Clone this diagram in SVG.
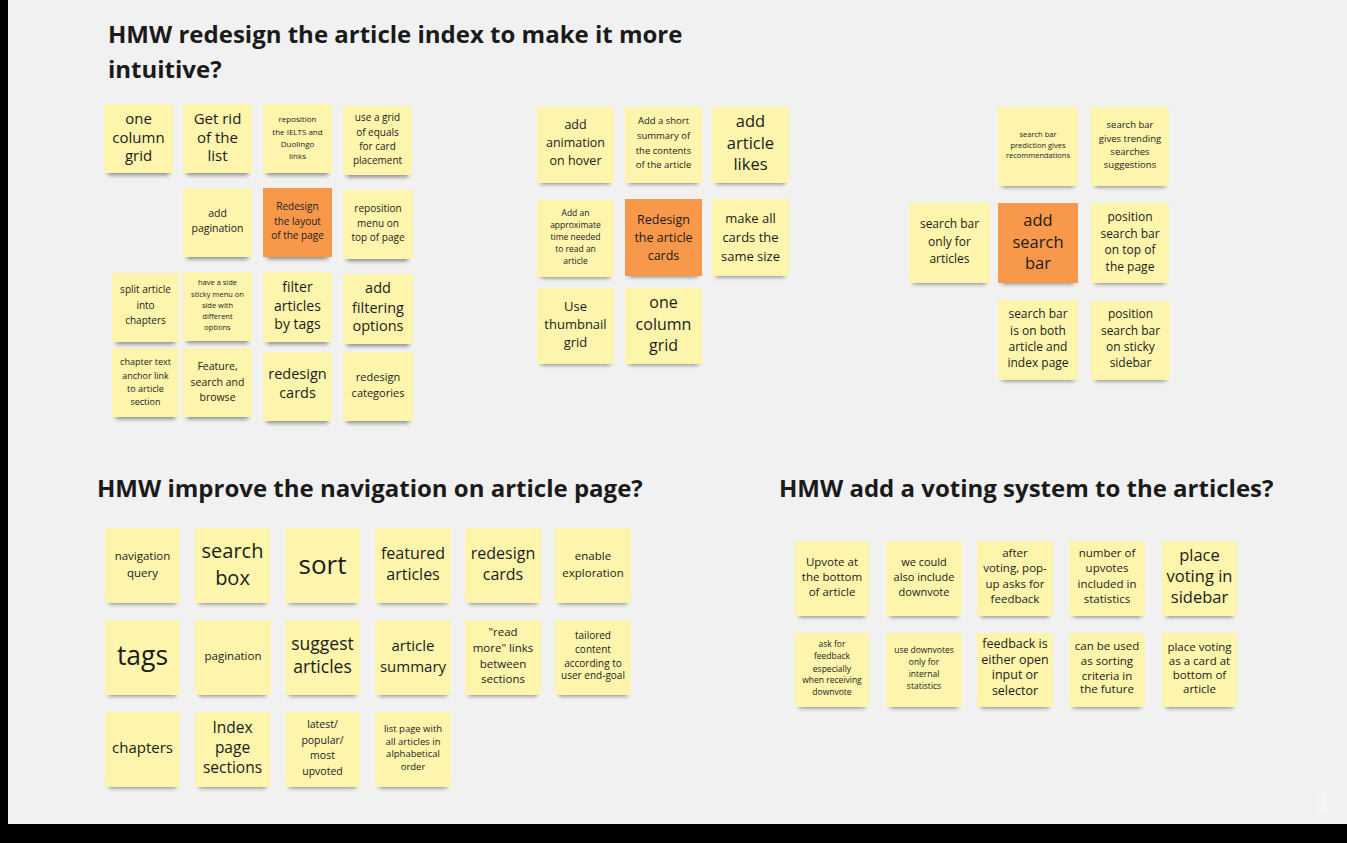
<svg xmlns="http://www.w3.org/2000/svg" width="1347" height="843" viewBox="0 0 1347 843">
  <style>
    .bg { fill: #f1f1f1; }
    .edge { fill: #000000; }
    .note { fill: #fdf5ab; }
    .hot { fill: #f8984b; }
    .sh { fill: #000000; opacity: 0.45; filter: url(#soft); }
    .t { font-family: "Open Sans", "Noto Sans", "Liberation Sans", sans-serif; fill: #1c1c1c; text-anchor: middle; }
    .h { font-family: "Open Sans", "Noto Sans", "Liberation Sans", sans-serif; font-weight: 700; font-size: 24px; fill: #1a1a1a; }
  </style>
  <defs>
    <filter id="soft" x="-20%" y="-200%" width="140%" height="500%">
      <feGaussianBlur stdDeviation="2.2"/>
    </filter>
  </defs>

  <rect class="bg" x="0" y="0" width="1347" height="843"/>
  <rect class="edge" x="0" y="0" width="8" height="843"/>
  <rect class="edge" x="0" y="824" width="1347" height="19"/>
  <rect x="1316" y="792" width="11" height="23" rx="4" fill="#f5f5f5"/>

  <!-- headings -->
  <text class="h" x="108" y="43">HMW redesign the article index to make it more</text>
  <text class="h" x="108" y="78">intuitive?</text>
  <text class="h" x="97" y="497">HMW improve the navigation on article page?</text>
  <text class="h" x="779" y="497">HMW add a voting system to the articles?</text>

  <!-- cluster: article index -->
  <g id="n-one-column-grid"><rect class="sh" x="108" y="168" width="61" height="7"/><rect class="note" x="104" y="104" width="69" height="69"/>
    <text class="t" font-size="15"><tspan x="138.5" y="124">one</tspan><tspan x="138.5" y="143">column</tspan><tspan x="138.5" y="161">grid</tspan></text></g>
  <g id="n-get-rid"><rect class="sh" x="187" y="168" width="61" height="7"/><rect class="note" x="183" y="104" width="69" height="69"/>
    <text class="t" font-size="15"><tspan x="217.5" y="124">Get rid</tspan><tspan x="217.5" y="143">of the</tspan><tspan x="217.5" y="161">list</tspan></text></g>
  <g id="n-ielts"><rect class="sh" x="267" y="168" width="61" height="7"/><rect class="note" x="263" y="104" width="69" height="69"/>
    <text class="t" font-size="8"><tspan x="297.5" y="122">reposition</tspan><tspan x="297.5" y="134.5">the IELTS and</tspan><tspan x="297.5" y="147">Duolingo</tspan><tspan x="297.5" y="158.5">links</tspan></text></g>
  <g id="n-grid-equals"><rect class="sh" x="347" y="170" width="61" height="7"/><rect class="note" x="343" y="106" width="69" height="69"/>
    <text class="t" font-size="10"><tspan x="377.5" y="121">use a grid</tspan><tspan x="377.5" y="135.5">of equals</tspan><tspan x="377.5" y="150">for card</tspan><tspan x="377.5" y="164">placement</tspan></text></g>

  <g id="n-add-pagination"><rect class="sh" x="187" y="252" width="61" height="7"/><rect class="note" x="183" y="188" width="69" height="69"/>
    <text class="t" font-size="10.5"><tspan x="217.5" y="217">add</tspan><tspan x="217.5" y="232">pagination</tspan></text></g>
  <g id="n-redesign-layout"><rect class="sh" x="267" y="252" width="61" height="7"/><rect class="hot" x="263" y="188" width="69" height="69"/>
    <text class="t" font-size="10"><tspan x="297.5" y="210">Redesign</tspan><tspan x="297.5" y="224.5">the layout</tspan><tspan x="297.5" y="239">of the page</tspan></text></g>
  <g id="n-reposition-menu"><rect class="sh" x="347" y="254" width="61" height="7"/><rect class="note" x="343" y="190" width="70" height="69"/>
    <text class="t" font-size="10"><tspan x="378" y="212">reposition</tspan><tspan x="378" y="226.5">menu on</tspan><tspan x="378" y="241">top of page</tspan></text></g>

  <g id="n-split-article"><rect class="sh" x="116" y="337" width="59" height="7"/><rect class="note" x="112" y="273" width="67" height="69"/>
    <text class="t" font-size="10"><tspan x="145.5" y="293">split article</tspan><tspan x="145.5" y="309">into</tspan><tspan x="145.5" y="324">chapters</tspan></text></g>
  <g id="n-side-sticky-menu"><rect class="sh" x="187" y="336" width="61" height="7"/><rect class="note" x="183" y="272" width="69" height="69"/>
    <text class="t" font-size="7.5"><tspan x="217.5" y="285">have a side</tspan><tspan x="217.5" y="296.5">sticky menu on</tspan><tspan x="217.5" y="308">side with</tspan><tspan x="217.5" y="319">different</tspan><tspan x="217.5" y="330">options</tspan></text></g>
  <g id="n-filter-tags"><rect class="sh" x="267" y="337" width="61" height="7"/><rect class="note" x="263" y="272" width="69" height="70"/>
    <text class="t" font-size="14"><tspan x="297.5" y="292">filter</tspan><tspan x="297.5" y="311">articles</tspan><tspan x="297.5" y="329">by tags</tspan></text></g>
  <g id="n-filtering-options"><rect class="sh" x="347" y="339" width="62" height="7"/><rect class="note" x="343" y="274" width="70" height="70"/>
    <text class="t" font-size="14.5"><tspan x="378" y="293">add</tspan><tspan x="378" y="313">filtering</tspan><tspan x="378" y="331">options</tspan></text></g>

  <g id="n-anchor-link"><rect class="sh" x="116" y="412" width="59" height="7"/><rect class="note" x="112" y="348" width="67" height="69"/>
    <text class="t" font-size="9"><tspan x="145.5" y="365">chapter text</tspan><tspan x="145.5" y="378.5">anchor link</tspan><tspan x="145.5" y="392">to article</tspan><tspan x="145.5" y="405">section</tspan></text></g>
  <g id="n-feature-search"><rect class="sh" x="187" y="412" width="61" height="7"/><rect class="note" x="183" y="348" width="69" height="69"/>
    <text class="t" font-size="10.5"><tspan x="217.5" y="370">Feature,</tspan><tspan x="217.5" y="385.5">search and</tspan><tspan x="217.5" y="401">browse</tspan></text></g>
  <g id="n-redesign-cards-1"><rect class="sh" x="267" y="416" width="61" height="7"/><rect class="note" x="263" y="352" width="69" height="69"/>
    <text class="t" font-size="14.5"><tspan x="297.5" y="379">redesign</tspan><tspan x="297.5" y="398">cards</tspan></text></g>
  <g id="n-redesign-categories"><rect class="sh" x="347" y="416" width="62" height="7"/><rect class="note" x="343" y="352" width="70" height="69"/>
    <text class="t" font-size="11"><tspan x="378" y="381">redesign</tspan><tspan x="378" y="397">categories</tspan></text></g>

  <!-- cluster: article cards -->
  <g id="n-animation-hover"><rect class="sh" x="541" y="177" width="69" height="7"/><rect class="note" x="537" y="107" width="77" height="76"/>
    <text class="t" font-size="12.5"><tspan x="575.5" y="129">add</tspan><tspan x="575.5" y="147">animation</tspan><tspan x="575.5" y="165">on hover</tspan></text></g>
  <g id="n-short-summary"><rect class="sh" x="629" y="177" width="69" height="7"/><rect class="note" x="625" y="107" width="77" height="76"/>
    <text class="t" font-size="9.5"><tspan x="663.5" y="124">Add a short</tspan><tspan x="663.5" y="139">summary of</tspan><tspan x="663.5" y="154">the contents</tspan><tspan x="663.5" y="168">of the article</tspan></text></g>
  <g id="n-article-likes"><rect class="sh" x="716" y="177" width="69" height="7"/><rect class="note" x="712" y="107" width="77" height="76"/>
    <text class="t" font-size="16.5"><tspan x="750.5" y="127">add</tspan><tspan x="750.5" y="149">article</tspan><tspan x="750.5" y="170">likes</tspan></text></g>

  <g id="n-reading-time"><rect class="sh" x="541" y="271" width="69" height="7"/><rect class="note" x="537" y="200" width="77" height="77"/>
    <text class="t" font-size="8.5"><tspan x="575.5" y="216">Add an</tspan><tspan x="575.5" y="228">approximate</tspan><tspan x="575.5" y="240">time needed</tspan><tspan x="575.5" y="252">to read an</tspan><tspan x="575.5" y="264">article</tspan></text></g>
  <g id="n-redesign-article-cards"><rect class="sh" x="629" y="270" width="69" height="7"/><rect class="hot" x="625" y="199" width="77" height="77"/>
    <text class="t" font-size="12.5"><tspan x="663.5" y="224">Redesign</tspan><tspan x="663.5" y="242">the article</tspan><tspan x="663.5" y="260">cards</tspan></text></g>
  <g id="n-same-size"><rect class="sh" x="716" y="270" width="69" height="7"/><rect class="note" x="712" y="199" width="77" height="77"/>
    <text class="t" font-size="13"><tspan x="750.5" y="223">make all</tspan><tspan x="750.5" y="242">cards the</tspan><tspan x="750.5" y="261">same size</tspan></text></g>

  <g id="n-thumbnail-grid"><rect class="sh" x="541" y="358" width="69" height="7"/><rect class="note" x="537" y="288" width="77" height="76"/>
    <text class="t" font-size="13"><tspan x="575.5" y="311">Use</tspan><tspan x="575.5" y="329">thumbnail</tspan><tspan x="575.5" y="347">grid</tspan></text></g>
  <g id="n-one-column-grid-2"><rect class="sh" x="629" y="358" width="69" height="7"/><rect class="note" x="625" y="288" width="77" height="76"/>
    <text class="t" font-size="16"><tspan x="663.5" y="308">one</tspan><tspan x="663.5" y="330">column</tspan><tspan x="663.5" y="351">grid</tspan></text></g>

  <!-- cluster: search bar -->
  <g id="n-prediction"><rect class="sh" x="1002" y="180" width="72" height="7"/><rect class="note" x="998" y="107" width="80" height="79"/>
    <text class="t" font-size="7.5"><tspan x="1038" y="137">search bar</tspan><tspan x="1038" y="148">prediction gives</tspan><tspan x="1038" y="158">recommendations</tspan></text></g>
  <g id="n-trending"><rect class="sh" x="1095" y="180" width="70" height="7"/><rect class="note" x="1091" y="107" width="78" height="79"/>
    <text class="t" font-size="9.5"><tspan x="1130" y="128">search bar</tspan><tspan x="1130" y="141.5">gives trending</tspan><tspan x="1130" y="154.5">searches</tspan><tspan x="1130" y="167.5">suggestions</tspan></text></g>

  <g id="n-only-articles"><rect class="sh" x="913" y="277" width="73" height="7"/><rect class="note" x="909" y="203" width="81" height="80"/>
    <text class="t" font-size="12"><tspan x="949.5" y="228">search bar</tspan><tspan x="949.5" y="245.5">only for</tspan><tspan x="949.5" y="263">articles</tspan></text></g>
  <g id="n-add-search-bar"><rect class="sh" x="1002" y="277" width="72" height="7"/><rect class="hot" x="998" y="203" width="80" height="80"/>
    <text class="t" font-size="16.5"><tspan x="1038" y="226">add</tspan><tspan x="1038" y="248">search</tspan><tspan x="1038" y="269">bar</tspan></text></g>
  <g id="n-search-top"><rect class="sh" x="1095" y="277" width="70" height="7"/><rect class="note" x="1091" y="203" width="78" height="80"/>
    <text class="t" font-size="12"><tspan x="1130" y="221">position</tspan><tspan x="1130" y="238">search bar</tspan><tspan x="1130" y="254">on top of</tspan><tspan x="1130" y="271">the page</tspan></text></g>

  <g id="n-both-pages"><rect class="sh" x="1002" y="374" width="72" height="7"/><rect class="note" x="998" y="300" width="80" height="80"/>
    <text class="t" font-size="12"><tspan x="1038" y="318">search bar</tspan><tspan x="1038" y="334.5">is on both</tspan><tspan x="1038" y="350.5">article and</tspan><tspan x="1038" y="367">index page</tspan></text></g>
  <g id="n-sticky-sidebar"><rect class="sh" x="1095" y="374" width="71" height="7"/><rect class="note" x="1091" y="301" width="79" height="79"/>
    <text class="t" font-size="12"><tspan x="1130.5" y="318">position</tspan><tspan x="1130.5" y="334.5">search bar</tspan><tspan x="1130.5" y="350.5">on sticky</tspan><tspan x="1130.5" y="367">sidebar</tspan></text></g>

  <!-- cluster: article page navigation -->
  <g id="n-navigation-query"><rect class="sh" x="109" y="597" width="67" height="7"/><rect class="note" x="105" y="528" width="75" height="75"/>
    <text class="t" font-size="11.5"><tspan x="142.5" y="560">navigation</tspan><tspan x="142.5" y="577">query</tspan></text></g>
  <g id="n-search-box"><rect class="sh" x="199" y="597" width="67" height="7"/><rect class="note" x="195" y="528" width="75" height="75"/>
    <text class="t" font-size="20"><tspan x="232.5" y="558">search</tspan><tspan x="232.5" y="585">box</tspan></text></g>
  <g id="n-sort"><rect class="sh" x="289" y="597" width="67" height="7"/><rect class="note" x="285" y="528" width="75" height="75"/>
    <text class="t" font-size="26"><tspan x="322.5" y="574">sort</tspan></text></g>
  <g id="n-featured"><rect class="sh" x="379" y="597" width="68" height="7"/><rect class="note" x="375" y="528" width="76" height="75"/>
    <text class="t" font-size="16"><tspan x="413" y="559">featured</tspan><tspan x="413" y="580">articles</tspan></text></g>
  <g id="n-redesign-cards-2"><rect class="sh" x="469" y="597" width="68" height="7"/><rect class="note" x="465" y="528" width="76" height="75"/>
    <text class="t" font-size="16"><tspan x="503" y="559">redesign</tspan><tspan x="503" y="580">cards</tspan></text></g>
  <g id="n-exploration"><rect class="sh" x="559" y="597" width="68" height="7"/><rect class="note" x="555" y="528" width="76" height="75"/>
    <text class="t" font-size="11.5"><tspan x="593" y="560">enable</tspan><tspan x="593" y="577">exploration</tspan></text></g>

  <g id="n-tags"><rect class="sh" x="109" y="689" width="67" height="7"/><rect class="note" x="105" y="620" width="75" height="75"/>
    <text class="t" font-size="26.5"><tspan x="142.5" y="665">tags</tspan></text></g>
  <g id="n-pagination"><rect class="sh" x="199" y="689" width="67" height="7"/><rect class="note" x="195" y="620" width="76" height="75"/>
    <text class="t" font-size="11.5"><tspan x="233" y="660">pagination</tspan></text></g>
  <g id="n-suggest"><rect class="sh" x="289" y="689" width="67" height="7"/><rect class="note" x="285" y="620" width="75" height="75"/>
    <text class="t" font-size="17.5"><tspan x="322.5" y="650">suggest</tspan><tspan x="322.5" y="673">articles</tspan></text></g>
  <g id="n-article-summary"><rect class="sh" x="379" y="689" width="68" height="7"/><rect class="note" x="375" y="620" width="76" height="75"/>
    <text class="t" font-size="15"><tspan x="413" y="651">article</tspan><tspan x="413" y="672">summary</tspan></text></g>
  <g id="n-read-more"><rect class="sh" x="469" y="689" width="68" height="7"/><rect class="note" x="465" y="620" width="76" height="75"/>
    <text class="t" font-size="11.5"><tspan x="503" y="636">"read</tspan><tspan x="503" y="652">more" links</tspan><tspan x="503" y="668">between</tspan><tspan x="503" y="683">sections</tspan></text></g>
  <g id="n-tailored"><rect class="sh" x="559" y="689" width="68" height="7"/><rect class="note" x="555" y="620" width="76" height="75"/>
    <text class="t" font-size="10"><tspan x="593" y="639">tailored</tspan><tspan x="593" y="652.5">content</tspan><tspan x="593" y="666.5">according to</tspan><tspan x="593" y="679">user end-goal</tspan></text></g>

  <g id="n-chapters"><rect class="sh" x="109" y="781" width="67" height="7"/><rect class="note" x="105" y="712" width="75" height="75"/>
    <text class="t" font-size="15"><tspan x="142.5" y="753">chapters</tspan></text></g>
  <g id="n-index-sections"><rect class="sh" x="199" y="781" width="67" height="7"/><rect class="note" x="195" y="712" width="75" height="75"/>
    <text class="t" font-size="15.5"><tspan x="232.5" y="733">Index</tspan><tspan x="232.5" y="753">page</tspan><tspan x="232.5" y="773">sections</tspan></text></g>
  <g id="n-latest-popular"><rect class="sh" x="289" y="781" width="67" height="7"/><rect class="note" x="285" y="712" width="75" height="75"/>
    <text class="t" font-size="10.5"><tspan x="322.5" y="728">latest/</tspan><tspan x="322.5" y="744">popular/</tspan><tspan x="322.5" y="759">most</tspan><tspan x="322.5" y="775">upvoted</tspan></text></g>
  <g id="n-alphabetical"><rect class="sh" x="379" y="781" width="68" height="7"/><rect class="note" x="375" y="712" width="76" height="75"/>
    <text class="t" font-size="9.5"><tspan x="413" y="732">list page with</tspan><tspan x="413" y="744.5">all articles in</tspan><tspan x="413" y="757">alphabetical</tspan><tspan x="413" y="770">order</tspan></text></g>

  <!-- cluster: voting -->
  <g id="n-upvote-bottom"><rect class="sh" x="799" y="610" width="66" height="7"/><rect class="note" x="795" y="541" width="74" height="75"/>
    <text class="t" font-size="11.5"><tspan x="832" y="566">Upvote at</tspan><tspan x="832" y="581">the bottom</tspan><tspan x="832" y="596">of article</tspan></text></g>
  <g id="n-downvote"><rect class="sh" x="890" y="610" width="68" height="7"/><rect class="note" x="886" y="541" width="76" height="75"/>
    <text class="t" font-size="11"><tspan x="924" y="566">we could</tspan><tspan x="924" y="581">also include</tspan><tspan x="924" y="596">downvote</tspan></text></g>
  <g id="n-popup-feedback"><rect class="sh" x="981" y="610" width="68" height="7"/><rect class="note" x="977" y="541" width="76" height="75"/>
    <text class="t" font-size="11.5"><tspan x="1015" y="557">after</tspan><tspan x="1015" y="572">voting, pop-</tspan><tspan x="1015" y="588">up asks for</tspan><tspan x="1015" y="603">feedback</tspan></text></g>
  <g id="n-upvote-stats"><rect class="sh" x="1073" y="610" width="68" height="7"/><rect class="note" x="1069" y="541" width="76" height="75"/>
    <text class="t" font-size="11.5"><tspan x="1107" y="557">number of</tspan><tspan x="1107" y="572">upvotes</tspan><tspan x="1107" y="587.5">included in</tspan><tspan x="1107" y="603">statistics</tspan></text></g>
  <g id="n-voting-sidebar"><rect class="sh" x="1166" y="610" width="67" height="7"/><rect class="note" x="1162" y="541" width="75" height="75"/>
    <text class="t" font-size="16.5"><tspan x="1199.5" y="561">place</tspan><tspan x="1199.5" y="582">voting in</tspan><tspan x="1199.5" y="603">sidebar</tspan></text></g>

  <g id="n-ask-feedback"><rect class="sh" x="799" y="701" width="66" height="7"/><rect class="note" x="795" y="633" width="74" height="74"/>
    <text class="t" font-size="8.5"><tspan x="832" y="647">ask for</tspan><tspan x="832" y="659">feedback</tspan><tspan x="832" y="671.5">especially</tspan><tspan x="832" y="683">when receiving</tspan><tspan x="832" y="695">downvote</tspan></text></g>
  <g id="n-internal-stats"><rect class="sh" x="890" y="701" width="68" height="7"/><rect class="note" x="886" y="633" width="76" height="74"/>
    <text class="t" font-size="8.5"><tspan x="924" y="653">use downvotes</tspan><tspan x="924" y="665">only for</tspan><tspan x="924" y="677">internal</tspan><tspan x="924" y="688.5">statistics</tspan></text></g>
  <g id="n-open-input"><rect class="sh" x="981" y="701" width="68" height="7"/><rect class="note" x="977" y="633" width="76" height="74"/>
    <text class="t" font-size="12.5"><tspan x="1015" y="648">feedback is</tspan><tspan x="1015" y="663.5">either open</tspan><tspan x="1015" y="679">input or</tspan><tspan x="1015" y="695">selector</tspan></text></g>
  <g id="n-sorting-criteria"><rect class="sh" x="1073" y="701" width="68" height="7"/><rect class="note" x="1069" y="633" width="76" height="74"/>
    <text class="t" font-size="11.5"><tspan x="1107" y="650">can be used</tspan><tspan x="1107" y="665">as sorting</tspan><tspan x="1107" y="680">criteria in</tspan><tspan x="1107" y="693">the future</tspan></text></g>
  <g id="n-voting-card"><rect class="sh" x="1166" y="701" width="67" height="7"/><rect class="note" x="1162" y="633" width="75" height="74"/>
    <text class="t" font-size="11.5"><tspan x="1199.5" y="651">place voting</tspan><tspan x="1199.5" y="665">as a card at</tspan><tspan x="1199.5" y="679">bottom of</tspan><tspan x="1199.5" y="693">article</tspan></text></g>

  <g id="connectors"></g>
</svg>
